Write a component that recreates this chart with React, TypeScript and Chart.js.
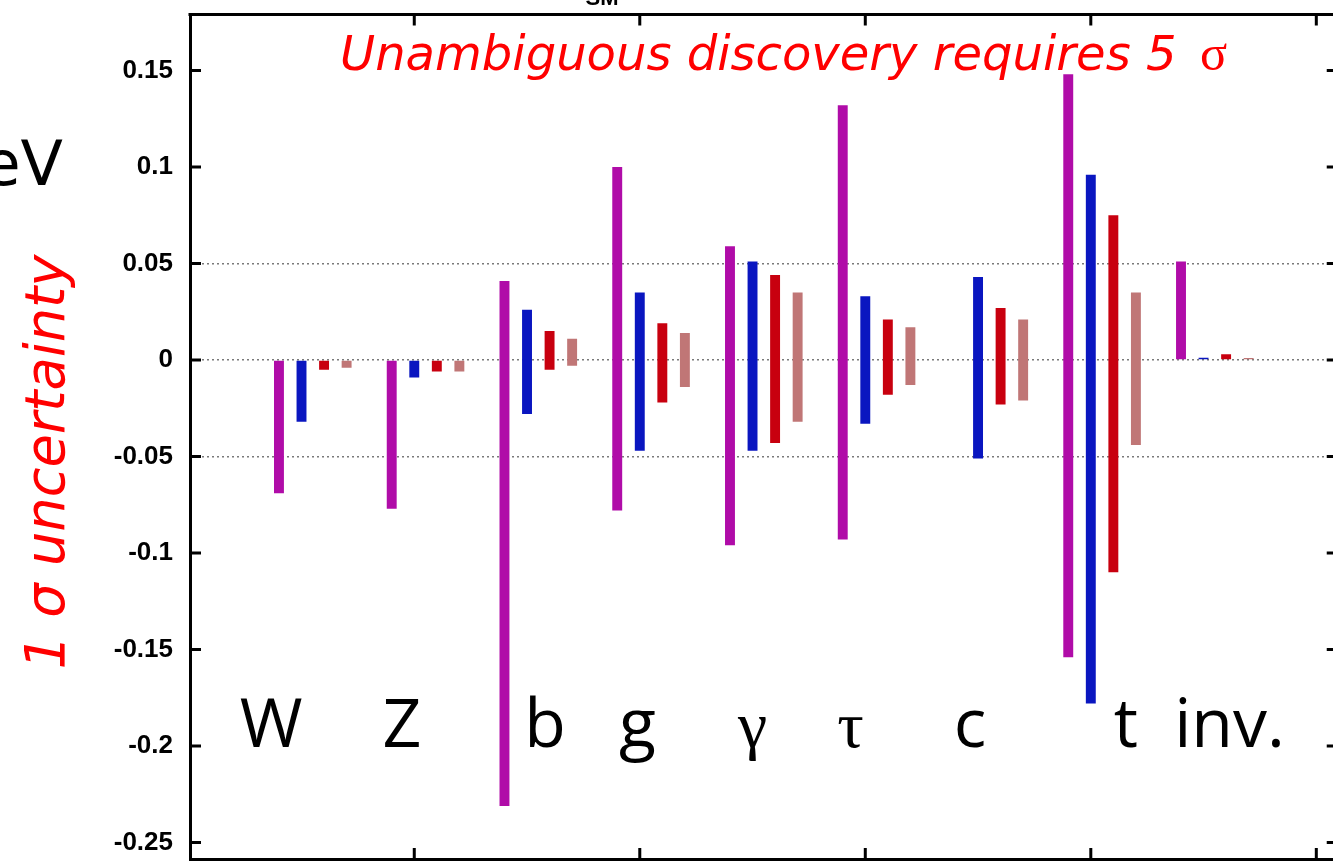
import React, { useEffect, useRef } from 'react';
import { Chart, registerables } from 'chart.js';

Chart.register(...registerables);

// ---------- data ----------
const CATEGORIES = ['W', 'Z', 'b', 'g', 'γ', 'τ', 'c', 't', 'inv.'];
const SERIES_NAMES = ['Series A', 'Series B', 'Series C', 'Series D'];

const A_HIGH = [0, 0, 0.041, 0.1, 0.059, 0.132, null, 0.148, 0.051];
const A_LOW = [-0.069, -0.077, -0.231, -0.078, -0.096, -0.093, null, -0.154, 0];

const B_HIGH = [0, 0, 0.026, 0.035, 0.051, 0.033, 0.043, 0.096, 0.0012];
const B_LOW = [-0.032, -0.009, -0.028, -0.047, -0.047, -0.033, -0.051, -0.178, 0];

const C_HIGH = [0, 0, 0.015, 0.019, 0.044, 0.021, 0.027, 0.075, 0.003];
const C_LOW = [-0.005, -0.006, -0.005, -0.022, -0.043, -0.018, -0.023, -0.11, 0];

const D_HIGH = [0, 0, 0.011, 0.014, 0.035, 0.017, 0.021, 0.035, 0.001];
const D_LOW = [-0.004, -0.006, -0.003, -0.014, -0.032, -0.013, -0.021, -0.044, 0];

const Y_MIN = -0.2585;
const Y_MAX = 0.179;
const Y_STEP = 0.05;
const GRID_VALUES = [-0.05, 0, 0.05];
const X_MIN = -0.089;
const X_MAX = 10.048;
const X_TICKS = [1.9, 3.9, 5.9, 7.9, 9.9];

const TITLE_TEXT = 'Unambiguous discovery requires 5 ';
const TITLE_SIGMA = 'σ';
const Y_TITLE = '1 σ uncertainty';

// ---------- styles ----------
const COLORS = ['#b00ca8', '#0a16c0', '#c8000f', '#c07676'];
const LABEL_SHIFT = [-0.37, -0.21, 0.06, -0.12, -0.1, -0.23, -0.17, 0.21, 0.13];
const X_RIGHT_BORDER = 10.09;

function buildData(high: (number | null)[], low: (number | null)[]) {
  const out: { x: number; y: [number, number] }[] = [];
  for (let i = 0; i < CATEGORIES.length; i++) {
    const h = high[i];
    const l = low[i];
    if (h === null || l === null) continue;
    out.push({ x: i + 1, y: [l, h] });
  }
  return out;
}

function fitSize(ctx: CanvasRenderingContext2D, text: string, style: string, family: string, target: number) {
  ctx.font = `${style} 100px ${family}`;
  const w = ctx.measureText(text).width;
  return (100 * target) / w;
}

const decorPlugin = {
  id: 'decor',
  afterDraw(chart: any) {
    const { ctx, chartArea } = chart;
    const xs = chart.scales.x;
    const ys = chart.scales.y;
    ctx.save();

    // top border
    ctx.strokeStyle = '#000';
    ctx.lineWidth = 3;
    ctx.beginPath();
    ctx.moveTo(chartArea.left - 1.5, chartArea.top);
    ctx.lineTo(chartArea.right + 5, chartArea.top);
    ctx.stroke();

    const rightBorder = xs.getPixelForValue(X_RIGHT_BORDER);
    const tickLen = 11;
    // y inner ticks
    for (const t of ys.ticks) {
      const py = ys.getPixelForValue(t.value);
      ctx.beginPath();
      ctx.moveTo(chartArea.left, py);
      ctx.lineTo(chartArea.left + tickLen, py);
      ctx.moveTo(rightBorder - tickLen, py);
      ctx.lineTo(rightBorder, py);
      ctx.stroke();
    }
    // x inner ticks
    for (const v of X_TICKS) {
      const px = xs.getPixelForValue(v);
      ctx.beginPath();
      ctx.moveTo(px, chartArea.bottom);
      ctx.lineTo(px, chartArea.bottom - tickLen);
      ctx.moveTo(px, chartArea.top);
      ctx.lineTo(px, chartArea.top + tickLen);
      ctx.stroke();
    }

    // category labels inside plot
    ctx.fillStyle = '#000';
    ctx.textAlign = 'center';
    ctx.textBaseline = 'alphabetic';
    const baseY = ys.getPixelForValue(-0.2) + 1;
    CATEGORIES.forEach((c, i) => {
      const greek = c === 'γ' || c === 'τ';
      ctx.font = greek ? '66px "Liberation Serif"' : '68px "Open Sans"';
      ctx.fillText(c, xs.getPixelForValue(i + 1 + LABEL_SHIFT[i]), baseY);
    });

    // red title
    ctx.fillStyle = '#ff0000';
    ctx.textAlign = 'left';
    const fam = '"DejaVu Sans"';
    const size = fitSize(ctx, TITLE_TEXT, 'italic', fam, 852);
    ctx.font = `italic ${size}px ${fam}`;
    ctx.fillText(TITLE_TEXT, 340, 70);
    ctx.font = `${size * 1.05}px "Liberation Serif"`;
    ctx.fillText(TITLE_SIGMA, 1200, 70);

    // y title rotated
    ctx.save();
    ctx.translate(64, 462);
    ctx.rotate(-Math.PI / 2);
    ctx.textAlign = 'center';
    const ysz = fitSize(ctx, Y_TITLE, 'italic', fam, 415);
    ctx.font = `italic ${ysz}px ${fam}`;
    ctx.fillText(Y_TITLE, 0, 0);
    ctx.restore();

    // cut-off texts
    ctx.fillStyle = '#000';
    ctx.textAlign = 'right';
    ctx.font = '62px "DejaVu Sans"';
    ctx.fillText('GeV', 63, 185);
    ctx.textAlign = 'center';
    ctx.font = 'bold 22px "Liberation Sans"';
    ctx.fillText('SM', 602, 5);

    ctx.restore();
  },
};

export default function App() {
  const ref = useRef<HTMLCanvasElement | null>(null);

  useEffect(() => {
    if (!ref.current) return;
    const highs = [A_HIGH, B_HIGH, C_HIGH, D_HIGH];
    const lows = [A_LOW, B_LOW, C_LOW, D_LOW];
    const chart = new Chart(ref.current, {
      type: 'bar',
      data: {
        datasets: SERIES_NAMES.map((name, i) => ({
          label: name,
          data: buildData(highs[i], lows[i]) as any,
          backgroundColor: COLORS[i],
          borderWidth: 0,
          borderSkipped: false,
          categoryPercentage: 0.8,
          barPercentage: 0.44,
        })),
      },
      options: {
        animation: false,
        responsive: false,
        devicePixelRatio: 1,
        layout: { padding: { top: 14.5, bottom: 2, left: 0, right: 0 } },
        plugins: {
          legend: { display: false },
          tooltip: { enabled: false },
          title: { display: false },
        },
        scales: {
          x: {
            type: 'linear',
            offset: false,
            min: X_MIN,
            max: X_MAX,
            ticks: { display: false, stepSize: 2, includeBounds: false },
            grid: { display: false, drawTicks: false, offset: false },
            border: { display: true, width: 3, color: '#000' },
            afterFit: (s: any) => {
              s.height = 0;
              s.paddingLeft = 0;
              s.paddingRight = 0;
            },
          },
          y: {
            type: 'linear',
            min: Y_MIN,
            max: Y_MAX,
            ticks: {
              stepSize: Y_STEP,
              includeBounds: false,
              padding: 17,
              color: '#000',
              font: { family: '"Liberation Sans"', weight: 'bold', size: 26, lineHeight: 1 },
              callback: (v: any) => String(parseFloat(Number(v).toFixed(3))),
            },
            grid: {
              drawTicks: false,
              lineWidth: 1.5,
              color: (c: any) => {
                if (!c.tick) return 'rgba(0,0,0,0)';
                const v = c.tick.value;
                return GRID_VALUES.some((g) => Math.abs(g - v) < 1e-6) ? '#7a7a7a' : 'rgba(0,0,0,0)';
              },
            },
            border: { display: true, width: 3, color: '#000', dash: [2, 3] },
            afterFit: (s: any) => {
              s.width = 190;
              s.paddingTop = 0;
              s.paddingBottom = 0;
            },
          },
        },
      } as any,
      plugins: [decorPlugin],
    });
    return () => chart.destroy();
  }, []);

  return (
    <div style={{ position: 'absolute', left: 0, top: 0, width: 1333, height: 861, background: '#fff' }}>
      <canvas ref={ref} width={1333} height={861} style={{ display: 'block' }} />
    </div>
  );
}
